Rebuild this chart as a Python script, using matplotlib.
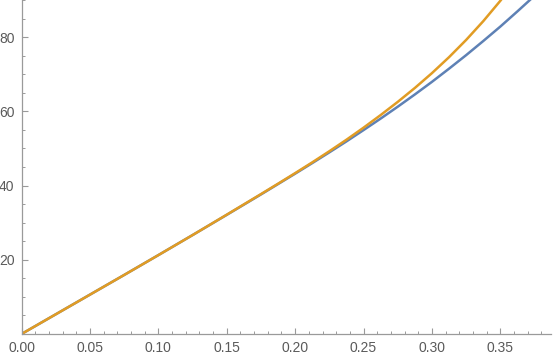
import matplotlib
matplotlib.use("Agg")
import matplotlib.pyplot as plt
from matplotlib.ticker import MultipleLocator, FormatStrFormatter, FixedLocator

x_blue = [0.0, 0.025, 0.05, 0.075, 0.10, 0.125, 0.15, 0.175, 0.1875, 0.20,
          0.2125, 0.225, 0.2375, 0.25, 0.2625, 0.275, 0.2875, 0.30, 0.3125,
          0.325, 0.3375, 0.35, 0.3625, 0.375, 0.3875]
y_blue = [0.0, 5.3, 10.6, 15.9, 21.25, 26.65, 32.1, 37.6, 40.4, 43.2,
          46.05, 48.95, 51.9, 54.95, 58.05, 61.25, 64.55, 67.95, 71.5,
          75.15, 78.95, 82.85, 86.95, 91.15, 95.6]
x_orange = [0.0, 0.025, 0.05, 0.075, 0.10, 0.125, 0.15, 0.175, 0.1875, 0.20,
            0.2125, 0.225, 0.2375, 0.25, 0.2625, 0.275, 0.2875, 0.30, 0.3125,
            0.325, 0.3375, 0.35, 0.3625]
y_orange = [0.0, 5.3, 10.6, 15.9, 21.25, 26.65, 32.15, 37.7, 40.5, 43.35,
            46.25, 49.25, 52.35, 55.6, 59.0, 62.55, 66.3, 70.3, 74.6,
            79.25, 84.3, 89.8, 95.8]

x_major = [0.00, 0.05, 0.10, 0.15, 0.20, 0.25, 0.30, 0.35]
y_major = [20, 40, 60, 80]

plt.rcParams['font.family'] = ['Liberation Sans', 'DejaVu Sans']

fig = plt.figure(figsize=(5.54, 3.62), dpi=100)
ax = fig.add_axes([21.5/554, 28/362, (551-21.5)/554, 334/362])

ax.plot(x_blue, y_blue, color='#5E81B5', lw=1.8, solid_capstyle='butt',
        solid_joinstyle='round')
ax.plot(x_orange, y_orange, color='#E19C24', lw=1.8, solid_capstyle='butt',
        solid_joinstyle='round')

ax.set_xlim(0, 0.387)
ax.set_ylim(0, 90)

for s in ['top', 'right']:
    ax.spines[s].set_visible(False)
for s in ['left', 'bottom']:
    ax.spines[s].set_color('#9a9a9a')
    ax.spines[s].set_linewidth(0.9)

ax.xaxis.set_major_locator(FixedLocator(x_major))
ax.xaxis.set_major_formatter(FormatStrFormatter('%.2f'))
ax.xaxis.set_minor_locator(MultipleLocator(0.01))
ax.yaxis.set_major_locator(FixedLocator(y_major))
ax.yaxis.set_minor_locator(MultipleLocator(5))

ax.tick_params(which='both', direction='in', color='#9a9a9a', labelcolor='#5a5a5a',
               labelsize=10)
ax.tick_params(which='major', length=4, width=0.8, pad=5)
ax.tick_params(which='minor', length=2.5, width=0.7)

fig.savefig('out.png', dpi=100)
